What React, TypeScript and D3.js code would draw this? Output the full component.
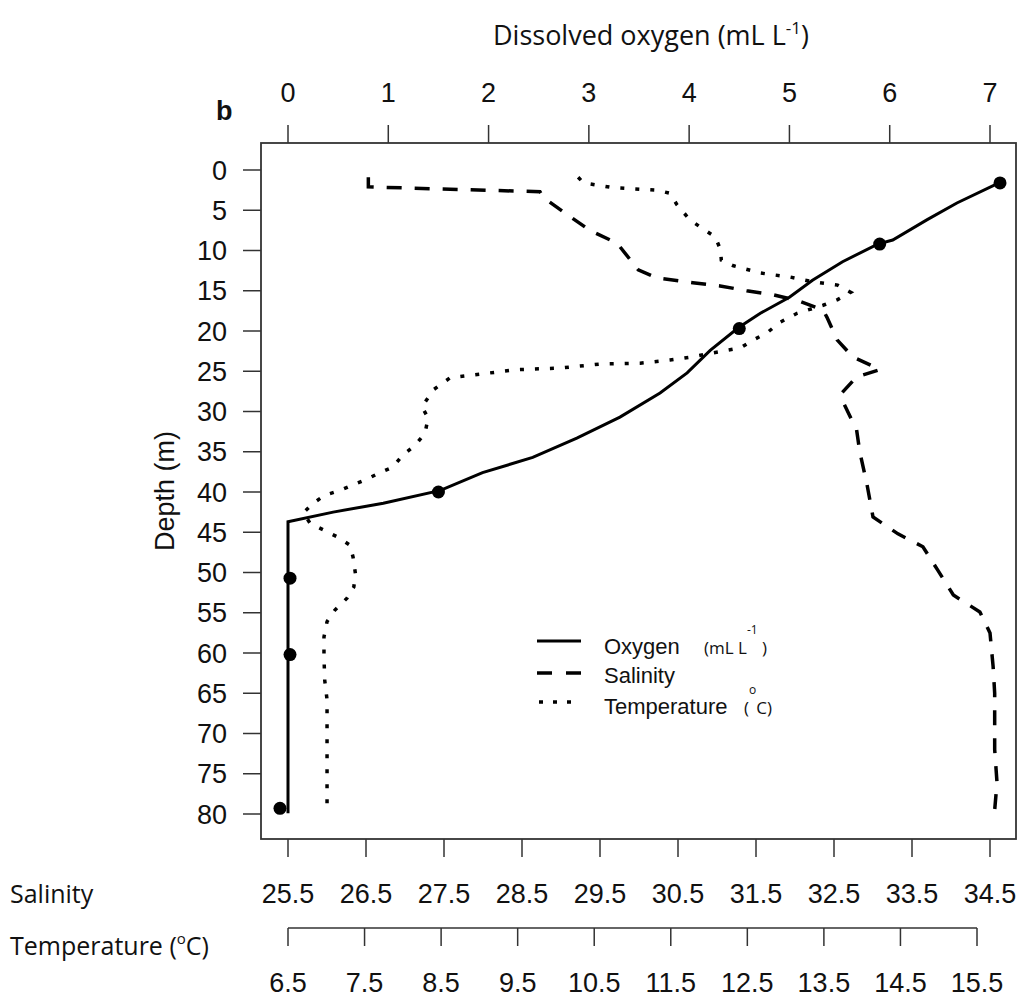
import React from "react";
import * as d3 from "d3";

// Axis tick values
const oxygenTicks = [0, 1, 2, 3, 4, 5, 6, 7];
const depthTicks = [0, 5, 10, 15, 20, 25, 30, 35, 40, 45, 50, 55, 60, 65, 70, 75, 80];
const salinityTicks = [25.5, 26.5, 27.5, 28.5, 29.5, 30.5, 31.5, 32.5, 33.5, 34.5];
const temperatureTicks = [6.5, 7.5, 8.5, 9.5, 10.5, 11.5, 12.5, 13.5, 14.5, 15.5];

// Profiles as [depth (m), value]
const oxygenProfile: [number, number][] = [
  [1.6, 7.09], [4.1, 6.67], [6.2, 6.37], [8.7, 6.03], [9.2, 5.88], [11.4, 5.53],
  [13.7, 5.23], [15.8, 5.0], [17.8, 4.71], [19.6, 4.49], [22.4, 4.21], [25.2, 3.98],
  [27.7, 3.71], [30.7, 3.31], [33.3, 2.88], [35.7, 2.44], [37.6, 1.94], [39.8, 1.52],
  [41.4, 0.95], [42.5, 0.45], [43.7, 0.0], [79.9, 0.0],
];

// Discrete oxygen samples [depth (m), mL/L]
const oxygenSamples: [number, number][] = [
  [1.6, 7.1], [9.2, 5.9], [19.7, 4.5], [40.0, 1.5], [50.7, 0.02], [60.2, 0.02], [79.3, -0.08],
];

const salinityProfile: [number, number][] = [
  [0.9, 26.53], [2.1, 26.53], [2.7, 28.73], [3.4, 28.77], [5.2, 29.03], [7.5, 29.37],
  [9.1, 29.72], [12.4, 29.99], [13.4, 30.23], [14.0, 30.69], [14.4, 31.04], [15.0, 31.38],
  [15.5, 31.72], [16.3, 32.06], [17.4, 32.36], [18.3, 32.41], [21.1, 32.54], [23.2, 32.74],
  [24.8, 33.09], [25.7, 32.79], [27.7, 32.6], [28.9, 32.62], [32.3, 32.79], [35.0, 32.83],
  [38.9, 32.92], [43.1, 33.0], [45.2, 33.32], [46.8, 33.64], [49.7, 33.83], [52.8, 34.03],
  [54.9, 34.37], [57.5, 34.5], [61.7, 34.54], [65.0, 34.56], [68.3, 34.56], [72.0, 34.56],
  [76.1, 34.59], [79.5, 34.56],
];

const temperatureProfile: [number, number][] = [
  [0.9, 10.29], [1.6, 10.36], [2.2, 10.75], [2.5, 11.32], [2.9, 11.49], [4.3, 11.58],
  [6.2, 11.75], [7.3, 11.92], [8.3, 12.08], [9.9, 12.15], [11.2, 12.16], [11.9, 12.32],
  [12.8, 12.67], [13.3, 13.06], [13.9, 13.36], [14.3, 13.68], [15.2, 13.85], [16.1, 13.68],
  [16.8, 13.49], [17.8, 13.15], [18.9, 12.93], [20.2, 12.76], [21.1, 12.58], [22.1, 12.41],
  [22.7, 12.06], [23.2, 11.79], [23.6, 11.49], [24.0, 11.1], [24.1, 10.58], [24.6, 10.06],
  [24.8, 9.49], [25.8, 8.62], [27.3, 8.4], [29.4, 8.25], [30.8, 8.33], [32.7, 8.29],
  [34.2, 8.16], [35.4, 8.0], [36.9, 7.87], [37.6, 7.7], [38.4, 7.53], [39.1, 7.35],
  [39.8, 7.18], [40.4, 6.98], [41.4, 6.83], [42.6, 6.7], [43.9, 6.79], [44.7, 6.96],
  [45.6, 7.15], [46.6, 7.31], [48.1, 7.35], [50.1, 7.38], [51.8, 7.36], [53.2, 7.27],
  [54.7, 7.11], [56.1, 7.01], [58.0, 6.97], [60.5, 6.97], [63.4, 6.98], [65.8, 7.01],
  [69.6, 7.01], [73.7, 7.01], [79.9, 7.01],
];

const W = 1021;
const H = 999;
const box = { left: 261, top: 143, right: 1016, bottom: 839 };
const tick = 18;
const tempAxisY = 928;

const depthY = d3.scaleLinear().domain([0, 80]).range([170, 814]);
const oxyX = d3.scaleLinear().domain([0, 7]).range([288, 990]);
const salX = d3.scaleLinear().domain([25.5, 34.5]).range([288, 990]);
const tempX = d3.scaleLinear().domain([6.5, 15.5]).range([288, 977]);

const axisFont = "'Liberation Sans', Arial, sans-serif";
const titleFont = "'Open Sans', 'Noto Sans', sans-serif";
const ink = "#111";

const profilePath = (scale: d3.ScaleLinear<number, number>, pts: [number, number][]) =>
  d3
    .line<[number, number]>()
    .x((p) => scale(p[1]))
    .y((p) => depthY(p[0]))(pts) || "";

const fmt = (v: number) => (Number.isInteger(v) ? String(v) : v.toFixed(1));

export default function App() {
  return (
    <svg
      width={W}
      height={H}
      viewBox={`0 0 ${W} ${H}`}
      style={{ position: "absolute", left: 0, top: 0, background: "#fff" }}
    >
      <rect x={0} y={0} width={W} height={H} fill="#fff" />

      {/* Title */}
      <text x={651} y={45} fontFamily={titleFont} fontSize={27} fill={ink} textAnchor="middle">
        Dissolved oxygen (mL L
        <tspan fontSize={17} dy={-11}>-1</tspan>
        <tspan dy={11}>)</tspan>
      </text>

      {/* Panel letter */}
      <text x={216} y={120} fontFamily={axisFont} fontSize={27} fontWeight="bold" fill={ink}>
        b
      </text>

      {/* Top axis: oxygen */}
      {oxygenTicks.map((t) => (
        <g key={`o${t}`}>
          <line x1={oxyX(t)} x2={oxyX(t)} y1={box.top - tick} y2={box.top} stroke="#333" strokeWidth={1.5} />
          <text x={oxyX(t)} y={102} fontFamily={axisFont} fontSize={27} fill={ink} textAnchor="middle">
            {t}
          </text>
        </g>
      ))}

      {/* Left axis: depth */}
      {depthTicks.map((t) => (
        <g key={`d${t}`}>
          <line x1={box.left - tick} x2={box.left} y1={depthY(t)} y2={depthY(t)} stroke="#333" strokeWidth={1.5} />
          <text
            x={227}
            y={depthY(t)}
            dy="0.36em"
            fontFamily={axisFont}
            fontSize={27}
            fill={ink}
            textAnchor="end"
          >
            {t}
          </text>
        </g>
      ))}
      <text
        transform={`translate(174,491) rotate(-90)`}
        fontFamily={axisFont}
        fontSize={27}
        fill={ink}
        textAnchor="middle"
      >
        Depth (m)
      </text>

      {/* Bottom axis: salinity */}
      {salinityTicks.map((t) => (
        <g key={`s${t}`}>
          <line x1={salX(t)} x2={salX(t)} y1={box.bottom} y2={box.bottom + tick} stroke="#333" strokeWidth={1.5} />
          <text x={salX(t)} y={903} fontFamily={axisFont} fontSize={27} fill={ink} textAnchor="middle">
            {fmt(t)}
          </text>
        </g>
      ))}
      <text x={10} y={903} fontFamily={titleFont} fontSize={25} fill={ink}>
        Salinity
      </text>

      {/* Second bottom axis: temperature */}
      <line
        x1={tempX(temperatureTicks[0])}
        x2={tempX(temperatureTicks[temperatureTicks.length - 1])}
        y1={tempAxisY}
        y2={tempAxisY}
        stroke="#333"
        strokeWidth={1.5}
      />
      {temperatureTicks.map((t) => (
        <g key={`t${t}`}>
          <line x1={tempX(t)} x2={tempX(t)} y1={tempAxisY} y2={tempAxisY + tick} stroke="#333" strokeWidth={1.5} />
          <text x={tempX(t)} y={992} fontFamily={axisFont} fontSize={27} fill={ink} textAnchor="middle">
            {fmt(t)}
          </text>
        </g>
      ))}
      <text x={10} y={955} fontFamily={titleFont} fontSize={25} fill={ink}>
        Temperature (
        <tspan fontSize={15} dy={-11}>o</tspan>
        <tspan dy={11}>C)</tspan>
      </text>

      {/* Profiles */}
      <path
        d={profilePath(tempX, temperatureProfile)}
        fill="none"
        stroke="#000"
        strokeWidth={3.5}
        strokeDasharray="4 11"
      />
      <path
        d={profilePath(salX, salinityProfile)}
        fill="none"
        stroke="#000"
        strokeWidth={3.5}
        strokeDasharray="15 13"
      />
      <path d={profilePath(oxyX, oxygenProfile)} fill="none" stroke="#000" strokeWidth={3} />
      {oxygenSamples.map((p, i) => (
        <circle key={`p${i}`} cx={oxyX(p[1])} cy={depthY(p[0])} r={6.5} fill="#000" />
      ))}

      {/* Plot frame */}
      <rect
        x={box.left}
        y={box.top}
        width={box.right - box.left}
        height={box.bottom - box.top}
        fill="none"
        stroke="#333"
        strokeWidth={1.8}
      />

      {/* Legend */}
      <g>
        <line x1={537} x2={581} y1={641} y2={641} stroke="#000" strokeWidth={3} />
        <line x1={537} x2={581} y1={673} y2={673} stroke="#000" strokeWidth={3.5} strokeDasharray="15 14" />
        <line x1={539} x2={581} y1={702} y2={702} stroke="#000" strokeWidth={3.5} strokeDasharray="4 10" />
        <text x={604} y={654} fontFamily={axisFont} fontSize={22} fill={ink}>
          Oxygen
        </text>
        <text x={704} y={654} fontFamily={titleFont} fontSize={17} fill={ink}>
          (mL L
          <tspan fontSize={12} dy={-20}>-1</tspan>
          <tspan dy={20}> )</tspan>
        </text>
        <text x={604} y={683} fontFamily={axisFont} fontSize={22} fill={ink}>
          Salinity
        </text>
        <text x={604} y={714} fontFamily={axisFont} fontSize={22} fill={ink}>
          Temperature
        </text>
        <text x={744} y={714} fontFamily={titleFont} fontSize={17} fill={ink}>
          (
          <tspan fontSize={12} dy={-20}>o</tspan>
          <tspan dy={20}>C)</tspan>
        </text>
      </g>
    </svg>
  );
}
